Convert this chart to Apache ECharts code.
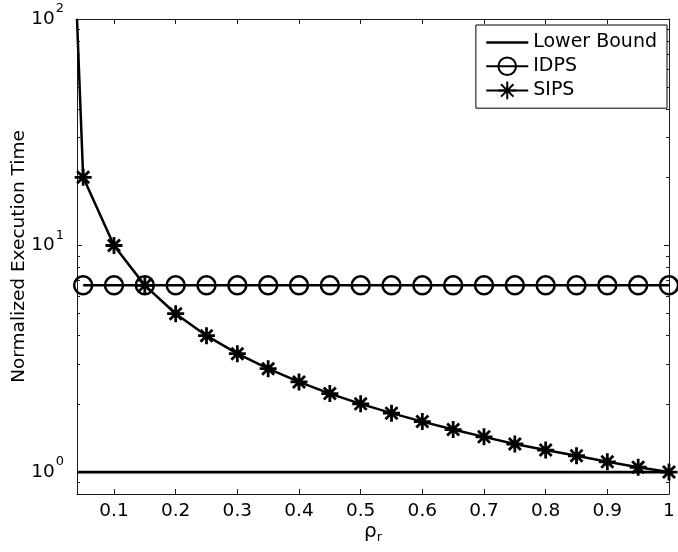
<!DOCTYPE html>
<html>
<head>
<meta charset="utf-8">
<script src="https://cdn.jsdelivr.net/npm/echarts@6/dist/echarts.min.js"></script>
<style>
html,body{margin:0;padding:0;background:#fff;}
#chart{width:678px;height:552px;}
</style>
</head>
<body>
<div id="chart"></div>
<script>
// ---- data ----
var xTicks = [0.1, 0.2, 0.3, 0.4, 0.5, 0.6, 0.7, 0.8, 0.9, 1];
var yMajorTicks = [1, 10, 100];
var yMinorTicks = [0.8, 0.9, 2, 3, 4, 5, 6, 7, 8, 9, 20, 30, 40, 50, 60, 70, 80, 90];

var lowerX = [0.04, 1];
var lowerY = [1, 1];

var idpsX = [0.05, 0.10, 0.15, 0.20, 0.25, 0.30, 0.35, 0.40, 0.45, 0.50,
             0.55, 0.60, 0.65, 0.70, 0.75, 0.80, 0.85, 0.90, 0.95, 1.00];
var idpsY = [6.67, 6.67, 6.67, 6.67, 6.67, 6.67, 6.67, 6.67, 6.67, 6.67,
             6.67, 6.67, 6.67, 6.67, 6.67, 6.67, 6.67, 6.67, 6.67, 6.67];

var sipsX = [0.04, 0.05, 0.10, 0.15, 0.20, 0.25, 0.30, 0.35, 0.40, 0.45, 0.50,
             0.55, 0.60, 0.65, 0.70, 0.75, 0.80, 0.85, 0.90, 0.95, 1.00];
var sipsY = [100, 20, 10, 6.67, 5.0, 4.0, 3.33, 2.86, 2.5, 2.22, 2.0,
             1.82, 1.67, 1.54, 1.43, 1.33, 1.25, 1.18, 1.11, 1.05, 1.0];

var seriesNames = ['Lower Bound', 'IDPS', 'SIPS'];

// ---- chart ----
var FONT = 'DejaVu Sans';
function pairs(xs, ys) { return xs.map(function (x, i) { return [x, ys[i]]; }); }

var sipsData = pairs(sipsX, sipsY).map(function (p, i) {
  return i === 0 ? { value: p, symbol: 'none' } : p;
});

var asterisk = 'path://M0,-1L0,1M-1,0L1,0M-0.7071,-0.7071L0.7071,0.7071M-0.7071,0.7071L0.7071,-0.7071';

var axisLineStyle = { color: '#1a1a1a', width: 1 };

function yAxisBase(pos, ticks, len, showLine, showLabel) {
  return {
    type: 'log', logBase: 10, min: 0.8, max: 100, position: pos,
    axisLine: { show: showLine, lineStyle: axisLineStyle },
    axisTick: { show: true, inside: true, length: len, customValues: ticks, lineStyle: axisLineStyle },
    axisLabel: showLabel ? {
      show: true, customValues: yMajorTicks, margin: 13,
      formatter: function (v) { return '{b|10}{s|' + Math.round(Math.log10(v)) + '}'; },
      rich: {
        b: { fontFamily: FONT, fontSize: 18.5, color: '#000' },
        s: { fontFamily: FONT, fontSize: 13, color: '#000', padding: [0, 0, 20, 1] }
      }
    } : { show: false },
    splitLine: { show: false },
    minorTick: { show: false },
    minorSplitLine: { show: false }
  };
}

var yAxes = [
  yAxisBase('left', yMajorTicks, 5, true, true),
  yAxisBase('left', yMinorTicks, 3, false, false),
  yAxisBase('right', yMajorTicks, 5, true, false),
  yAxisBase('right', yMinorTicks, 3, false, false)
];
yAxes[0].name = 'Normalized Execution Time';
yAxes[0].nameLocation = 'middle';
yAxes[0].nameGap = 48;
yAxes[0].nameMoveOverlap = false;
yAxes[0].nameTextStyle = { fontFamily: FONT, fontSize: 18.5, color: '#000' };

function xAxisBase(pos, showLabel) {
  return {
    type: 'value', min: 0.04, max: 1, position: pos,
    axisLine: { show: true, lineStyle: axisLineStyle },
    axisTick: { show: true, inside: true, length: 5, customValues: xTicks, lineStyle: axisLineStyle },
    axisLabel: showLabel ? {
      show: true, customValues: xTicks, margin: 8,
      fontFamily: FONT, fontSize: 18.5, color: '#000',
      formatter: function (v) { return String(v); }
    } : { show: false },
    splitLine: { show: false }
  };
}
var xAxes = [xAxisBase('bottom', true), xAxisBase('top', false)];
xAxes[0].name = '{a|ρ}{b|r}';
xAxes[0].nameLocation = 'middle';
xAxes[0].nameGap = 25;
xAxes[0].nameMoveOverlap = false;
xAxes[0].nameTextStyle = {
  rich: {
    a: { fontFamily: FONT, fontSize: 20, color: '#000' },
    b: { fontFamily: FONT, fontSize: 13, color: '#000', padding: [12, 0, 0, 0] }
  }
};

var option = {
  backgroundColor: '#fff',
  animation: false,
  grid: { left: 77, right: 9, top: 19, bottom: 58, containLabel: false, outerBoundsMode: 'none' },
  xAxis: xAxes,
  yAxis: yAxes,
  legend: {
    orient: 'vertical', right: 11, top: 25,
    data: [
      { name: seriesNames[0], itemStyle: { color: 'rgba(0,0,0,0)', borderWidth: 0 },
        lineStyle: { color: '#000', width: 2.7 } },
      { name: seriesNames[1] },
      { name: seriesNames[2] }
    ],
    backgroundColor: '#fff', borderColor: '#000', borderWidth: 1, borderRadius: 0,
    padding: [8, 10, 8, 9],
    itemWidth: 42, itemHeight: 22, itemGap: 4.5,
    textStyle: { fontFamily: FONT, fontSize: 19, color: '#000' }
  },
  series: [
    {
      name: seriesNames[0], type: 'line', data: pairs(lowerX, lowerY),
      symbol: 'none', lineStyle: { color: '#000', width: 2.7 },
      itemStyle: { color: '#000' }, z: 2
    },
    {
      name: seriesNames[1], type: 'line', data: pairs(idpsX, idpsY),
      symbol: 'circle', symbolSize: 18, showAllSymbol: true, clip: false,
      lineStyle: { color: '#000', width: 2.5 },
      itemStyle: { color: 'rgba(0,0,0,0)', borderColor: '#000', borderWidth: 2.5 }, z: 3
    },
    {
      name: seriesNames[2], type: 'line', data: sipsData,
      symbol: asterisk, symbolSize: 17, showAllSymbol: true, clip: false,
      lineStyle: { color: '#000', width: 2.5 },
      itemStyle: { color: '#000', borderColor: '#000', borderWidth: 2.8 }, z: 4
    }
  ]
};

var chart = echarts.init(document.getElementById('chart'), null, { renderer: 'canvas' });
chart.setOption(option);
</script>
</body>
</html>
